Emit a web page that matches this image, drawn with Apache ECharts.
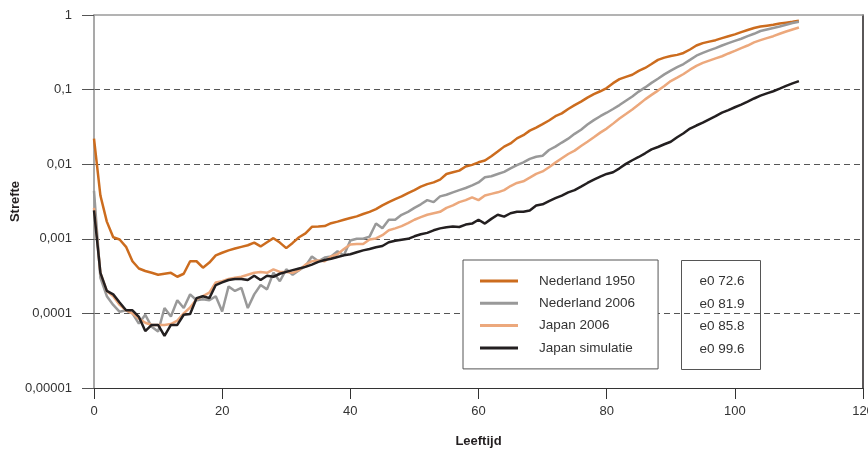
<!DOCTYPE html>
<html>
<head>
<meta charset="utf-8">
<script src="https://cdn.jsdelivr.net/npm/echarts@6/dist/echarts.min.js"></script>
<style>
  html, body { margin: 0; padding: 0; background: #fff; }
  #chart { width: 868px; height: 450px; }
</style>
</head>
<body>
<div id="chart"></div>
<script>
// Ages 0..110
const ages = Array.from({ length: 111 }, (_, i) => i);

const seriesNames = ['Nederland 1950', 'Nederland 2006', 'Japan 2006', 'Japan simulatie'];
const e0Labels = ['e0 72.6', 'e0 81.9', 'e0 85.8', 'e0 99.6'];
const yTickLabels = ['0,00001', '0,0001', '0,001', '0,01', '0,1', '1'];

const nederland1950 = [
  0.022, 0.0038, 0.0017, 0.00105, 0.00098, 0.00078, 0.0005, 0.0004, 0.00037, 0.00035,
  0.00033, 0.00034, 0.00035, 0.00031, 0.00034, 0.0005, 0.0005, 0.00041, 0.00048, 0.0006,
  0.00065, 0.0007, 0.00074, 0.00078, 0.00082, 0.00089, 0.00079, 0.0009, 0.00102, 0.00089,
  0.00075, 0.00088, 0.00105, 0.00118, 0.00145, 0.00146, 0.00148, 0.00162, 0.0017, 0.0018,
  0.0019, 0.002, 0.00215, 0.0023, 0.0025, 0.0028, 0.0031, 0.0034, 0.0037, 0.0041,
  0.0045, 0.005, 0.0054, 0.0057, 0.0062, 0.0074, 0.0078, 0.0082, 0.0093, 0.0098,
  0.0106, 0.0112, 0.0128, 0.0148, 0.0172, 0.019, 0.0222, 0.0245, 0.0282, 0.031,
  0.0345, 0.0385, 0.044, 0.048, 0.055, 0.062, 0.069, 0.078, 0.087, 0.095,
  0.105, 0.122, 0.138, 0.148, 0.158, 0.178, 0.195, 0.22, 0.25, 0.268,
  0.282, 0.292, 0.31, 0.345, 0.39, 0.42, 0.44, 0.46, 0.49, 0.52,
  0.55, 0.59, 0.63, 0.67, 0.7, 0.72, 0.74, 0.77, 0.79, 0.81,
  0.84
];

const nederland2006 = [
  0.0044, 0.0003, 0.00017, 0.00013, 0.000105, 0.00011, 0.0001, 0.000073, 0.000096, 0.000066,
  0.000057, 0.000118, 0.000091, 0.00015, 0.000118, 0.00018, 0.00015, 0.000155, 0.00015, 0.00017,
  0.000106, 0.00023, 0.0002, 0.00022, 0.000118, 0.00018, 0.00024, 0.00021, 0.00035, 0.00027,
  0.00039, 0.00033, 0.00038, 0.00043, 0.00058, 0.0005, 0.00056, 0.00058, 0.00068, 0.0006,
  0.00095, 0.001, 0.001, 0.00107, 0.0016, 0.00138, 0.0018, 0.0018, 0.0021, 0.0023,
  0.0026, 0.0029, 0.0033, 0.0031, 0.0037, 0.0039, 0.0042, 0.0045, 0.0048, 0.0052,
  0.0057, 0.0067, 0.0069, 0.0074, 0.0079, 0.0088, 0.0097, 0.0106, 0.0118, 0.0126,
  0.013, 0.0155, 0.0172, 0.0195, 0.022, 0.0255, 0.029, 0.034, 0.039, 0.044,
  0.049, 0.055, 0.062, 0.071, 0.081, 0.094, 0.107, 0.123, 0.14, 0.16,
  0.18, 0.2, 0.22, 0.25, 0.285, 0.31, 0.335, 0.36, 0.39, 0.42,
  0.45, 0.48, 0.52, 0.56, 0.61, 0.64, 0.67, 0.7, 0.74, 0.78,
  0.81
];

const japan2006 = [
  0.0026, 0.00035, 0.0002, 0.00017, 0.00013, 0.00011, 0.0001, 0.000085, 0.000075, 0.00007,
  0.00007, 0.00007, 0.000072, 0.00008, 0.0001, 0.00012, 0.000155, 0.00017, 0.00019, 0.00026,
  0.00027, 0.00029, 0.0003, 0.00031, 0.00033, 0.00035, 0.00036, 0.00035, 0.00039, 0.00036,
  0.00036, 0.00035, 0.00038, 0.00045, 0.0005, 0.00051, 0.0005, 0.00058, 0.00062, 0.00073,
  0.00084, 0.00085, 0.00085, 0.00098, 0.00101, 0.00112, 0.0013, 0.00138, 0.00148, 0.00162,
  0.0018, 0.00195, 0.0021, 0.0022, 0.0023, 0.0026, 0.0028, 0.0031, 0.0033, 0.0036,
  0.0033, 0.0038, 0.004, 0.0042, 0.0045, 0.0051, 0.0056, 0.0059, 0.0066, 0.0074,
  0.008, 0.0091, 0.0105, 0.012, 0.0137, 0.0152, 0.0175, 0.02, 0.023, 0.0265,
  0.03, 0.035, 0.041, 0.047, 0.054, 0.063, 0.074, 0.085, 0.097, 0.112,
  0.13, 0.145, 0.162, 0.185, 0.208, 0.228, 0.245, 0.262, 0.28, 0.305,
  0.33, 0.36, 0.39, 0.43, 0.46, 0.49, 0.52, 0.56, 0.6, 0.64,
  0.68
];

const japanSimulatie = [
  0.0024, 0.00035, 0.0002, 0.00018, 0.00014, 0.00011, 0.00011, 0.00009, 0.000058, 0.00007,
  0.00007, 0.00005, 0.00007, 0.00007, 0.000096, 0.000098, 0.00016, 0.00017, 0.00016, 0.00024,
  0.00026, 0.00028, 0.00029, 0.00029, 0.00028, 0.00032, 0.00028, 0.00032, 0.00031, 0.00034,
  0.00036, 0.00038, 0.0004, 0.00042, 0.00045, 0.00049, 0.00052, 0.00054, 0.00057, 0.0006,
  0.00062, 0.00066, 0.0007, 0.00073, 0.00077, 0.0008, 0.0009, 0.00094, 0.00097, 0.001,
  0.00108, 0.00115, 0.0012, 0.0013, 0.00138, 0.00143, 0.00146, 0.00144, 0.00155, 0.0016,
  0.0018, 0.0016, 0.00185, 0.0021, 0.00198, 0.0022, 0.0023, 0.0023, 0.0024, 0.0028,
  0.0029, 0.0032, 0.0035, 0.0038, 0.0042, 0.0045, 0.005, 0.0056, 0.0062, 0.0068,
  0.0074, 0.0078, 0.0088, 0.0101, 0.0113, 0.0125, 0.014, 0.0158, 0.017, 0.0185,
  0.02, 0.023, 0.026, 0.03, 0.033, 0.036, 0.04, 0.044, 0.049, 0.053,
  0.058, 0.063, 0.069, 0.076, 0.083, 0.089, 0.095, 0.103, 0.112, 0.121,
  0.13
];

const seriesValues = [nederland1950, nederland2006, japan2006, japanSimulatie];
const seriesColors = ['#cc6c1e', '#999999', '#eca87c', '#231f20'];

const FONT = '"Liberation Sans", Arial, Helvetica, sans-serif';

const chart = echarts.init(document.getElementById('chart'), null, { renderer: 'canvas' });

const option = {
  animation: false,
  backgroundColor: '#ffffff',
  textStyle: { fontFamily: FONT },
  grid: {
    left: 94, right: 5, top: 15, bottom: 62,
    containLabel: false,
    outerBoundsMode: 'none'
  },
  xAxis: [
    {
      type: 'value',
      min: 0, max: 120, interval: 20,
      name: 'Leeftijd',
      nameLocation: 'middle',
      nameGap: 47,
      nameMoveOverlap: false,
      nameTextStyle: { fontFamily: FONT, fontSize: 13, fontWeight: 'bold', color: '#231f20' },
      axisLine: { show: true, onZero: false, lineStyle: { color: '#333333', width: 1.2 } },
      axisTick: { show: true, inside: false, length: 11, lineStyle: { color: '#333333', width: 1 } },
      axisLabel: { margin: 17, fontFamily: FONT, fontSize: 13, color: '#333333' },
      splitLine: { show: false }
    },
    {
      type: 'value',
      position: 'top',
      min: 0, max: 120,
      axisLine: { show: true, onZero: false, lineStyle: { color: '#9a9a9a', width: 1.5 } },
      axisTick: { show: false },
      axisLabel: { show: false },
      splitLine: { show: false }
    }
  ],
  yAxis: [
    {
      type: 'log',
      logBase: 10,
      min: 0.00001, max: 1,
      splitNumber: 5,
      name: 'Strefte',
      nameLocation: 'middle',
      nameGap: 72,
      nameMoveOverlap: false,
      nameRotate: 90,
      nameTextStyle: { fontFamily: FONT, fontSize: 13, fontWeight: 'bold', color: '#231f20' },
      axisLine: { show: true, onZero: false, lineStyle: { color: '#8c8c8c', width: 1.5 } },
      axisTick: { show: true, inside: false, length: 12, lineStyle: { color: '#555555', width: 1 } },
      axisLabel: {
        margin: 22,
        fontFamily: FONT, fontSize: 13, color: '#333333',
        formatter: function (v) {
          const idx = Math.round(Math.log10(v)) + 5;
          return yTickLabels[idx] !== undefined ? yTickLabels[idx] : '';
        }
      },
      splitLine: {
        show: true,
        lineStyle: {
          color: ['#555555', '#555555', '#555555', '#555555', '#555555', 'rgba(0,0,0,0)'],
          width: 1,
          type: [6, 4]
        }
      }
    },
    {
      type: 'log',
      logBase: 10,
      min: 0.00001, max: 1,
      position: 'right',
      axisLine: { show: true, onZero: false, lineStyle: { color: '#231f20', width: 1.5 } },
      axisTick: { show: false },
      axisLabel: { show: false },
      splitLine: { show: false }
    }
  ],
  legend: {
    show: true,
    orient: 'vertical',
    left: 463,
    top: 260,
    data: seriesNames,
    icon: 'rect',
    itemWidth: 38,
    itemHeight: 3,
    itemGap: 8.3,
    padding: [14, 23, 14, 17],
    backgroundColor: '#ffffff',
    borderColor: '#555555',
    borderWidth: 1,
    borderRadius: 0,
    selectedMode: false,
    textStyle: {
      fontFamily: FONT, fontSize: 13.5, color: '#333333',
      lineHeight: 14,
      padding: [0, 0, 0, 16]
    }
  },
  graphic: [
    {
      type: 'group',
      left: 681,
      top: 260,
      z: 100,
      children: [
        {
          type: 'rect',
          shape: { x: 0, y: 0, width: 79, height: 109 },
          style: { fill: '#ffffff', stroke: '#555555', lineWidth: 1 }
        }
      ].concat(e0Labels.map(function (t, i) {
        return {
          type: 'text',
          x: 18,
          y: 21 + i * 22.5,
          style: {
            text: t,
            fill: '#333333',
            font: '13.5px ' + FONT,
            verticalAlign: 'middle'
          }
        };
      }))
    }
  ],
  series: seriesNames.map(function (name, si) {
    return {
      name: name,
      type: 'line',
      xAxisIndex: 0,
      yAxisIndex: 0,
      showSymbol: false,
      symbol: 'none',
      smooth: false,
      lineStyle: { color: seriesColors[si], width: 2.5 },
      itemStyle: { color: seriesColors[si] },
      z: 2 + si,
      data: ages.map(function (a, i) { return [a, seriesValues[si][i]]; })
    };
  })
};

chart.setOption(option);
</script>
</body>
</html>
